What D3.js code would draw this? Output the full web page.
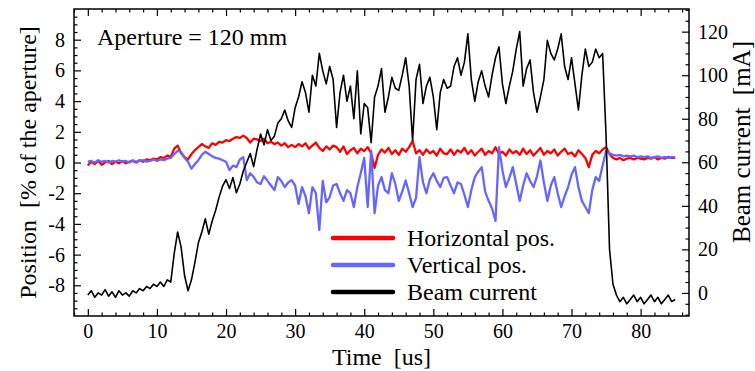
<!DOCTYPE html>
<html>
<head>
<meta charset="utf-8">
<script src="https://cdn.jsdelivr.net/npm/d3@7"></script>
<style>
    body { margin: 0; background: #fff; }
</style>
</head>
<body>
<div id="chart"></div>
<script>
const FONT = "'Liberation Serif', 'Times New Roman', serif";

// sampling grid (us)
const timeUs = d3.range(0, 85.001, 0.5);

// position [% of aperture], read every 0.5 us
const horizontalPos = [
    -0.2, 0.05, -0.1, 0.1, -0.15, 0, 0.1, -0.1, 0.05, -0.05,
    0.1, -0.05, 0.05, 0.1, 0, 0.15, 0.05, 0.2, 0.15, 0.25,
    0.2, 0.35, 0.3, 0.45, 0.35, 0.9, 1.1, 0.6, 0.35, 0.2,
    0.55, 0.8, 1.0, 1.2, 1.05, 0.95, 1.25, 1.15, 1.35, 1.3,
    1.45, 1.4, 1.55, 1.65, 1.6, 1.75, 1.6, 1.3, 1.55, 1.5,
    1.4, 1.55, 1.25, 1.35, 1.2, 1.3, 1.1, 1.25, 1.0, 1.15,
    1.0, 1.2, 1.05, 1.25, 0.9, 1.1, 1.3, 0.95, 0.75, 1.05,
    0.85, 1.1, 1.0, 0.7, 1.05, 0.55, 0.8, 0.95, 0.6, 0.9,
    0.75, 1.0, 0.6, -0.35, 0.5, 0.85, 0.65, 0.95, 0.55, 0.8,
    0.5, 0.9, 0.7, 1.0, 1.4, 0.6, 0.8, 0.5, 0.85, 0.6,
    0.75, 0.45, 0.9, 0.6, 0.55, 0.85, 0.5, 0.8, 0.65, 0.95,
    0.55, 0.8, 0.45, 0.7, 0.9, 0.5, 0.75, 0.6, 1.0, 0.55,
    0.7, 0.45, 0.85, 0.6, 0.75, 0.5, 0.9, 0.55, 0.8, 0.45,
    0.7, 0.95, 0.5, 0.75, 0.6, 0.85, 0.45, 0.7, 0.9, 0.55,
    0.65, 0.4, 0.8, 0.55, 0.3, -0.3, 0.5, 0.75, 0.6, 0.85,
    1.0, 0.55, 0.3, 0.2, 0.3, 0.15, 0.25, 0.3, 0.2, 0.3,
    0.25, 0.2, 0.3, 0.25, 0.35, 0.2, 0.3, 0.25, 0.35, 0.3,
    0.3
];

const verticalPos = [
    0.05, 0.1, 0, 0.15, 0.05, 0.1, 0, 0.1, 0.05, 0.15,
    0.05, 0.1, 0, 0.15, 0.05, 0.1, 0.15, 0.05, 0.1, 0.2,
    0.1, 0.2, 0.15, 0.25, 0.3, 0.55, 0.75, 0.7, 0.3, 0.05,
    -0.4, -0.1, 0.15, 0.5, 0.7, 0.55, 0.4, 0.3, 0.25, 0.15,
    0.05, -0.5, -0.2, -0.3, 0.2, 0.35, -1.15, -0.7, -0.95, -1.3,
    -1.4, -0.9, -1.2, -1.5, -1.8, -0.95, -1.2, -1.6, -1.3, -1.15,
    -1.5, -2.7, -1.6, -2.2, -3.3, -1.6, -2.0, -4.4, -1.2, -2.6,
    -2.25, -1.5, -1.4, -2.0, -2.5, -1.8, -2.0, -2.9, -1.6, -0.7,
    0.3, -2.9, 0.78, -3.3, -1.5, -0.95, -1.8, -2.0, -0.7, -1.4,
    -2.5, -1.9, -1.17, -2.0, -2.9, -2.3, 0.35, -1.3, -2.0, -1.1,
    -0.7, -1.2, -1.6, -1.0, -0.95, -1.5, -2.0, -1.3, -1.4, -2.1,
    -2.9, -1.8, -0.95, -0.6, -0.3, -1.9, -2.5, -3.0, -3.8, 1.0,
    -0.5, -1.6, -1.0, -0.3, -1.4, -2.5, -1.5, -0.7, -1.2, -1.6,
    -0.9, 0.13, -1.3, -2.5, -1.5, -0.95, -2.0, -2.9, -2.2, -1.6,
    -0.8, -0.3, -1.6, -2.5, -2.9, -3.3, -1.8, -0.95, -1.2, -0.2,
    0.75, 0.6, 0.5, 0.45, 0.5, 0.4, 0.45, 0.4, 0.45, 0.35,
    0.4, 0.35, 0.4, 0.3, 0.35, 0.4, 0.3, 0.35, 0.3, 0.35,
    0.35
];

// beam current [mA]
const beamCurrent = [
    -1, 1, -2, 0, -1, 1.5, -1.5, 0.5, -2, 1,
    -1, 0, -1.5, 1, 0, 2, 1, 3, 2, 4,
    3, 5, 3, 6, 5, 18, 28, 21, 8, 1,
    6, 14, 23, 28, 34, 27, 33, 38, 44, 49,
    52, 48, 53, 46, 50, 56, 60, 64, 58, 66,
    73, 68, 75, 70, 72, 78, 80, 84, 79, 76,
    85, 90, 97, 92, 83, 100, 95, 110, 102, 96,
    104, 98, 76, 92, 100, 88, 95, 80, 102, 73,
    87, 85, 69, 90, 95, 103, 83, 90, 99, 94,
    93, 100, 108, 95, 70, 98, 105, 87, 95, 99,
    90, 75, 92, 98, 94, 95, 104, 108, 100, 106,
    119, 98, 88, 97, 102, 95, 90, 100, 108, 113,
    96, 87, 95, 102, 112, 120, 95, 103, 107, 92,
    83, 90, 98, 116, 110, 107, 112, 119, 104, 98,
    108, 96, 84, 100, 112, 104, 106, 112, 108, 110,
    72, 20, 4, -1, -4, -2, -5, -3, -1, -4,
    -2, -5, -3, -1, -4, -2, -5, -3, -1, -4,
    -3
];

const timeTicks = [0, 10, 20, 30, 40, 50, 60, 70, 80];
const posTicks = [-8, -6, -4, -2, 0, 2, 4, 6, 8];
const currentTicks = [0, 20, 40, 60, 80, 100, 120];
const seriesNames = ["Horizontal pos.", "Vertical pos.", "Beam current"];

class BeamVis {

    constructor(_parentElement) {
        this.parentElement = _parentElement;
        this.initVis();
    }

    initVis() {
        let vis = this;

        vis.margin = { top: 9, right: 66, bottom: 55, left: 74 };
        vis.width = 755 - vis.margin.left - vis.margin.right;
        vis.height = 371 - vis.margin.top - vis.margin.bottom;

        vis.root = d3.select("#" + vis.parentElement).append("svg")
            .attr("width", 755)
            .attr("height", 371)
            .style("font-family", FONT);

        vis.svg = vis.root.append("g")
            .attr("transform", "translate(" + vis.margin.left + "," + vis.margin.top + ")");

        vis.x = d3.scaleLinear().domain([-2, 87]).range([0, vis.width]);
        vis.yPos = d3.scaleLinear().domain([-10, 10]).range([vis.height, 0]);
        vis.yCur = d3.scaleLinear().domain([-10.6, 130.4]).range([vis.height, 0]);

        vis.svg.append("clipPath").attr("id", "plot-clip")
            .append("rect")
            .attr("width", vis.width)
            .attr("height", vis.height);

        vis.drawAxes();
        vis.updateVis();
    }

    drawAxes() {
        let vis = this;
        let noDomain = g => g.select(".domain").remove();
        let style = function(g) {
            g.attr("font-family", null).attr("font-size", 20);
            g.selectAll("text").style("font-family", FONT).attr("fill", "#000");
            g.selectAll("line").attr("stroke-width", 1.2);
        };

        let xMinor = d3.range(-2, 87.01, 2).filter(d => d % 10 !== 0);
        let posMinor = d3.range(-10, 10.01, 0.5).filter(d => d % 2 !== 0);
        let curMinor = d3.range(-10, 130.01, 5).filter(d => d % 20 !== 0);

        // bottom
        vis.svg.append("g")
            .attr("transform", "translate(0," + vis.height + ")")
            .call(d3.axisBottom(vis.x).tickValues(timeTicks).tickSizeInner(-7).tickSizeOuter(0)
                .tickPadding(8).tickFormat(d => d))
            .call(noDomain).call(style);
        vis.svg.append("g")
            .attr("transform", "translate(0," + vis.height + ")")
            .call(d3.axisBottom(vis.x).tickValues(xMinor).tickSize(-3.5).tickFormat(""))
            .call(noDomain).call(style);

        // top mirror
        vis.svg.append("g")
            .call(d3.axisTop(vis.x).tickValues(timeTicks).tickSize(-7).tickFormat(""))
            .call(noDomain).call(style);
        vis.svg.append("g")
            .call(d3.axisTop(vis.x).tickValues(xMinor).tickSize(-3.5).tickFormat(""))
            .call(noDomain).call(style);

        // left
        vis.svg.append("g")
            .call(d3.axisLeft(vis.yPos).tickValues(posTicks).tickSizeInner(-7).tickSizeOuter(0)
                .tickPadding(9).tickFormat(d => String(d)))
            .call(noDomain).call(style);
        vis.svg.append("g")
            .call(d3.axisLeft(vis.yPos).tickValues(posMinor).tickSize(-3.5).tickFormat(""))
            .call(noDomain).call(style);

        // right
        vis.svg.append("g")
            .attr("transform", "translate(" + vis.width + ",0)")
            .call(d3.axisRight(vis.yCur).tickValues(currentTicks).tickSizeInner(-7).tickSizeOuter(0)
                .tickPadding(9).tickFormat(d => d))
            .call(noDomain).call(style);
        vis.svg.append("g")
            .attr("transform", "translate(" + vis.width + ",0)")
            .call(d3.axisRight(vis.yCur).tickValues(curMinor).tickSize(-3.5).tickFormat(""))
            .call(noDomain).call(style);

        vis.svg.append("rect")
            .attr("width", vis.width)
            .attr("height", vis.height)
            .attr("fill", "none")
            .attr("stroke", "#000")
            .attr("stroke-width", 1.5);

        // titles
        vis.svg.append("text")
            .attr("x", vis.width / 2)
            .attr("y", vis.height + 49)
            .attr("text-anchor", "middle")
            .attr("font-size", 24)
            .style("white-space", "pre")
            .text("Time  [us]");

        vis.root.append("text")
            .attr("transform", "translate(36," + (vis.margin.top + vis.height / 2) + ") rotate(-90)")
            .attr("text-anchor", "middle")
            .attr("font-size", 24)
            .style("white-space", "pre")
            .text("Position  [% of the aperture]");

        vis.root.append("text")
            .attr("transform", "translate(750,142) rotate(-90)")
            .attr("text-anchor", "middle")
            .attr("font-size", 25)
            .style("white-space", "pre")
            .text("Beam current  [mA]");

        vis.svg.append("text")
            .attr("x", 23)
            .attr("y", 36)
            .attr("font-size", 24)
            .text("Aperture = 120 mm");
    }

    updateVis() {
        let vis = this;
        let colors = ["#ff0000", "#6666ff", "#000000"];
        let widths = [2.3, 2.3, 1.6];

        let series = [
            { values: horizontalPos, y: vis.yPos },
            { values: verticalPos, y: vis.yPos },
            { values: beamCurrent, y: vis.yCur }
        ];

        let plot = vis.svg.append("g").attr("clip-path", "url(#plot-clip)");

        series.forEach(function(s, i) {
            let line = d3.line()
                .x((d, j) => vis.x(timeUs[j]))
                .y(d => s.y(d));
            plot.append("path")
                .datum(s.values)
                .attr("d", line)
                .attr("fill", "none")
                .attr("stroke", colors[i])
                .attr("stroke-width", widths[i])
                .attr("stroke-linejoin", "round");
        });

        // legend
        let legend = vis.svg.append("g")
            .attr("transform", "translate(" + (333 - vis.margin.left) + "," + (238 - vis.margin.top) + ")");

        let rows = legend.selectAll(".legend-row")
            .data(seriesNames)
            .enter().append("g")
            .attr("class", "legend-row")
            .attr("transform", (d, i) => "translate(0," + i * 27 + ")");

        rows.append("line")
            .attr("x1", 0).attr("x2", 60)
            .attr("stroke", (d, i) => colors[i])
            .attr("stroke-width", 4.5)
            .attr("stroke-linecap", "round");

        rows.append("text")
            .attr("x", 74)
            .attr("dy", "0.35em")
            .attr("font-size", 24)
            .text(d => d);
    }
}

new BeamVis("chart");
</script>
</body>
</html>
